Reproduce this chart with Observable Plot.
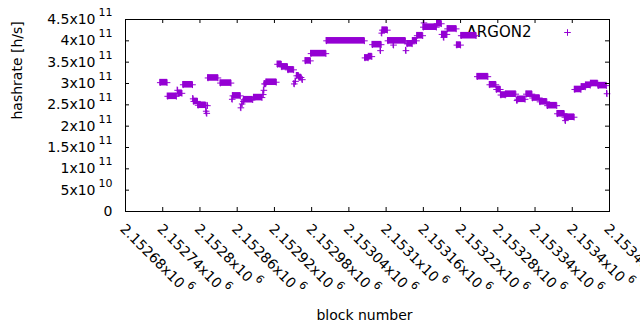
<!DOCTYPE html>
<html><head><meta charset="utf-8">
<script src="https://cdn.jsdelivr.net/npm/d3@7"></script>
<script src="https://cdn.jsdelivr.net/npm/@observablehq/plot@0.6"></script>
<style>
html,body{margin:0;padding:0;background:#fff;}
#chart svg{display:block;}
</style></head><body><div id="chart"></div>
<script>
// ---- data (runs of consecutive blocks with the same hashrate estimate) ----
const runStart = [
  2152736, 2152748, 2152764, 2152765, 2152773, 2152789, 2152790, 2152797, 2152810, 2152811,
  2152812, 2152813, 2152833, 2152852, 2152853, 2152866, 2152868, 2152870, 2152871, 2152887,
  2152902, 2152903, 2152904, 2152907, 2152925, 2152932, 2152942, 2152952, 2152954, 2152956,
  2152960, 2152965, 2152970, 2152979, 2153004, 2153066, 2153072, 2153078, 2153091, 2153093,
  2153094, 2153103, 2153112, 2153132, 2153134, 2153143, 2153150, 2153160, 2153161, 2153182,
  2153190, 2153193, 2153199, 2153214, 2153221, 2153247, 2153267, 2153278, 2153285, 2153293,
  2153311, 2153312, 2153326, 2153336, 2153348, 2153360, 2153376, 2153388, 2153389, 2153404,
  2153415, 2153422, 2153430, 2153442, 2153456
];
const runEnd = [
  2152747, 2152762, 2152764, 2152771, 2152788, 2152789, 2152796, 2152809, 2152810, 2152811,
  2152812, 2152829, 2152850, 2152852, 2152865, 2152866, 2152868, 2152870, 2152885, 2152900,
  2152902, 2152903, 2152906, 2152923, 2152931, 2152941, 2152951, 2152952, 2152954, 2152959,
  2152963, 2152965, 2152978, 2153003, 2153065, 2153071, 2153077, 2153092, 2153091, 2153093,
  2153102, 2153131, 2153112, 2153132, 2153142, 2153149, 2153159, 2153181, 2153161, 2153189,
  2153198, 2153193, 2153213, 2153220, 2153245, 2153264, 2153277, 2153284, 2153292, 2153309,
  2153311, 2153324, 2153335, 2153347, 2153359, 2153375, 2153387, 2153403, 2153389, 2153414,
  2153421, 2153429, 2153441, 2153455, 2153456
];
const runValue = [
  3.02e11, 2.70e11, 2.84e11, 2.77e11, 2.97e11, 2.64e11, 2.58e11, 2.49e11, 2.35e11, 2.30e11,
  2.48e11, 3.13e11, 3.01e11, 2.63e11, 2.71e11, 2.43e11, 2.52e11, 2.58e11, 2.62e11, 2.67e11,
  2.74e11, 2.84e11, 2.99e11, 3.03e11, 3.45e11, 3.39e11, 3.32e11, 2.99e11, 3.05e11, 3.18e11,
  3.14e11, 3.09e11, 3.53e11, 3.70e11, 4.00e11, 3.60e11, 3.63e11, 3.91e11, 3.77e11, 4.18e11,
  4.25e11, 4.00e11, 3.90e11, 3.77e11, 3.93e11, 4.00e11, 4.12e11, 4.32e11, 4.42e11, 4.40e11,
  4.15e11, 4.08e11, 4.28e11, 3.90e11, 4.12e11, 3.16e11, 2.97e11, 2.86e11, 2.73e11, 2.75e11,
  2.60e11, 2.63e11, 2.75e11, 2.66e11, 2.57e11, 2.48e11, 2.29e11, 2.21e11, 2.13e11, 2.86e11,
  2.92e11, 2.96e11, 3.00e11, 2.95e11, 2.76e11
];
const xTicks = [2152680, 2152740, 2152800, 2152860, 2152920, 2152980, 2153040, 2153100,
                2153160, 2153220, 2153280, 2153340, 2153400, 2153460];
const yTicks = [0, 5e10, 1e11, 1.5e11, 2e11, 2.5e11, 3e11, 3.5e11, 4e11, 4.5e11];
const seriesName = "ARGON2";
const xLabel = "block number";
const yLabel = "hashrate [h/s]";

// ---- styling ----
const color = "#9400D3";
const W = 640, H = 330;
const mL = 125, mR = 31, mT = 19, mB = 119;
const plotW = W - mL - mR, plotH = H - mT - mB;
const tick = 4;
const fontSize = 14;

const plusSymbol = {
  draw(ctx, size) {
    const r = Math.sqrt(size / Math.PI);
    ctx.moveTo(-r, 0); ctx.lineTo(r, 0);
    ctx.moveTo(0, -r); ctx.lineTo(0, r);
  }
};

function sci(v) {
  if (v === 0) return "0";
  const e = Math.floor(Math.log10(v) + 1e-9);
  const m = +(v / Math.pow(10, e)).toPrecision(7);
  return m + "x10^" + e;
}

const runs = runStart.map((s, i) => ({start: s, end: runEnd[i], value: runValue[i]}));
const ends = runs.flatMap(d => d.start === d.end
  ? [{block: d.start, value: d.value}]
  : [{block: d.start, value: d.value}, {block: d.end, value: d.value}]);

const R = 3.3;

const chart = Plot.plot({
  width: W, height: H,
  marginLeft: mL, marginRight: mR, marginTop: mT, marginBottom: mB,
  style: {fontFamily: "'DejaVu Sans', sans-serif", fontSize: fontSize + "px", background: "white", color: "black"},
  x: {domain: [xTicks[0], xTicks[xTicks.length - 1]], axis: null},
  y: {domain: [0, 4.5e11], axis: null},
  marks: [
    // legend
    Plot.text([seriesName], {frameAnchor: "top-right", lineAnchor: "middle", textAnchor: "end", dx: -78, dy: 13, fontSize: 15, fill: "black"}),
    Plot.dot([seriesName], {x: null, y: null, frameAnchor: "top-right", dx: -42, dy: 13,
      symbol: plusSymbol, r: R, stroke: color, fill: "none", strokeWidth: 1}),
    // data
    Plot.rect(runs, {x1: "start", x2: "end", y1: "value", y2: "value",
      insetTop: -R, insetBottom: -R, insetLeft: -0.5, insetRight: -0.5, fill: color}),
    Plot.dot(ends, {x: "block", y: "value", symbol: plusSymbol, r: R, stroke: color, fill: "none", strokeWidth: 1}),
    // inward ticks on all four sides
    Plot.tickX(xTicks, {x: d => d, insetTop: plotH - tick, stroke: "black"}),
    Plot.tickX(xTicks, {x: d => d, insetBottom: plotH - tick, stroke: "black"}),
    Plot.tickY(yTicks, {y: d => d, insetRight: plotW - tick, stroke: "black"}),
    Plot.tickY(yTicks, {y: d => d, insetLeft: plotW - tick, stroke: "black"}),
    Plot.frame({stroke: "black"}),
    // tick labels
    Plot.text(yTicks, {y: d => d, frameAnchor: "left", lineAnchor: "middle", textAnchor: "end", dx: -13, text: d => sci(d), fill: "black"}),
    Plot.text(xTicks, {x: d => d, frameAnchor: "bottom", lineAnchor: "middle", textAnchor: "start", rotate: 45, dx: -3, dy: 15, text: d => sci(d), fill: "black"}),
    // axis titles
    Plot.text([yLabel], {frameAnchor: "left", lineAnchor: "middle", rotate: -90, dx: -108, dy: 4, fill: "black"}),
    Plot.text([xLabel], {frameAnchor: "bottom", lineAnchor: "middle", dx: -3, dy: 104, fill: "black"})
  ]
});

// superscript exponents (enhanced-text style)
chart.querySelectorAll("text").forEach(t => {
  const s = t.textContent;
  const k = s.indexOf("^");
  if (k < 0) return;
  t.textContent = s.slice(0, k);
  const ts = document.createElementNS("http://www.w3.org/2000/svg", "tspan");
  ts.setAttribute("dx", "3");
  ts.setAttribute("dy", "-8");
  ts.setAttribute("font-size", "11");
  ts.textContent = s.slice(k + 1);
  t.appendChild(ts);
});

document.getElementById("chart").appendChild(chart);
</script>
</body></html>
